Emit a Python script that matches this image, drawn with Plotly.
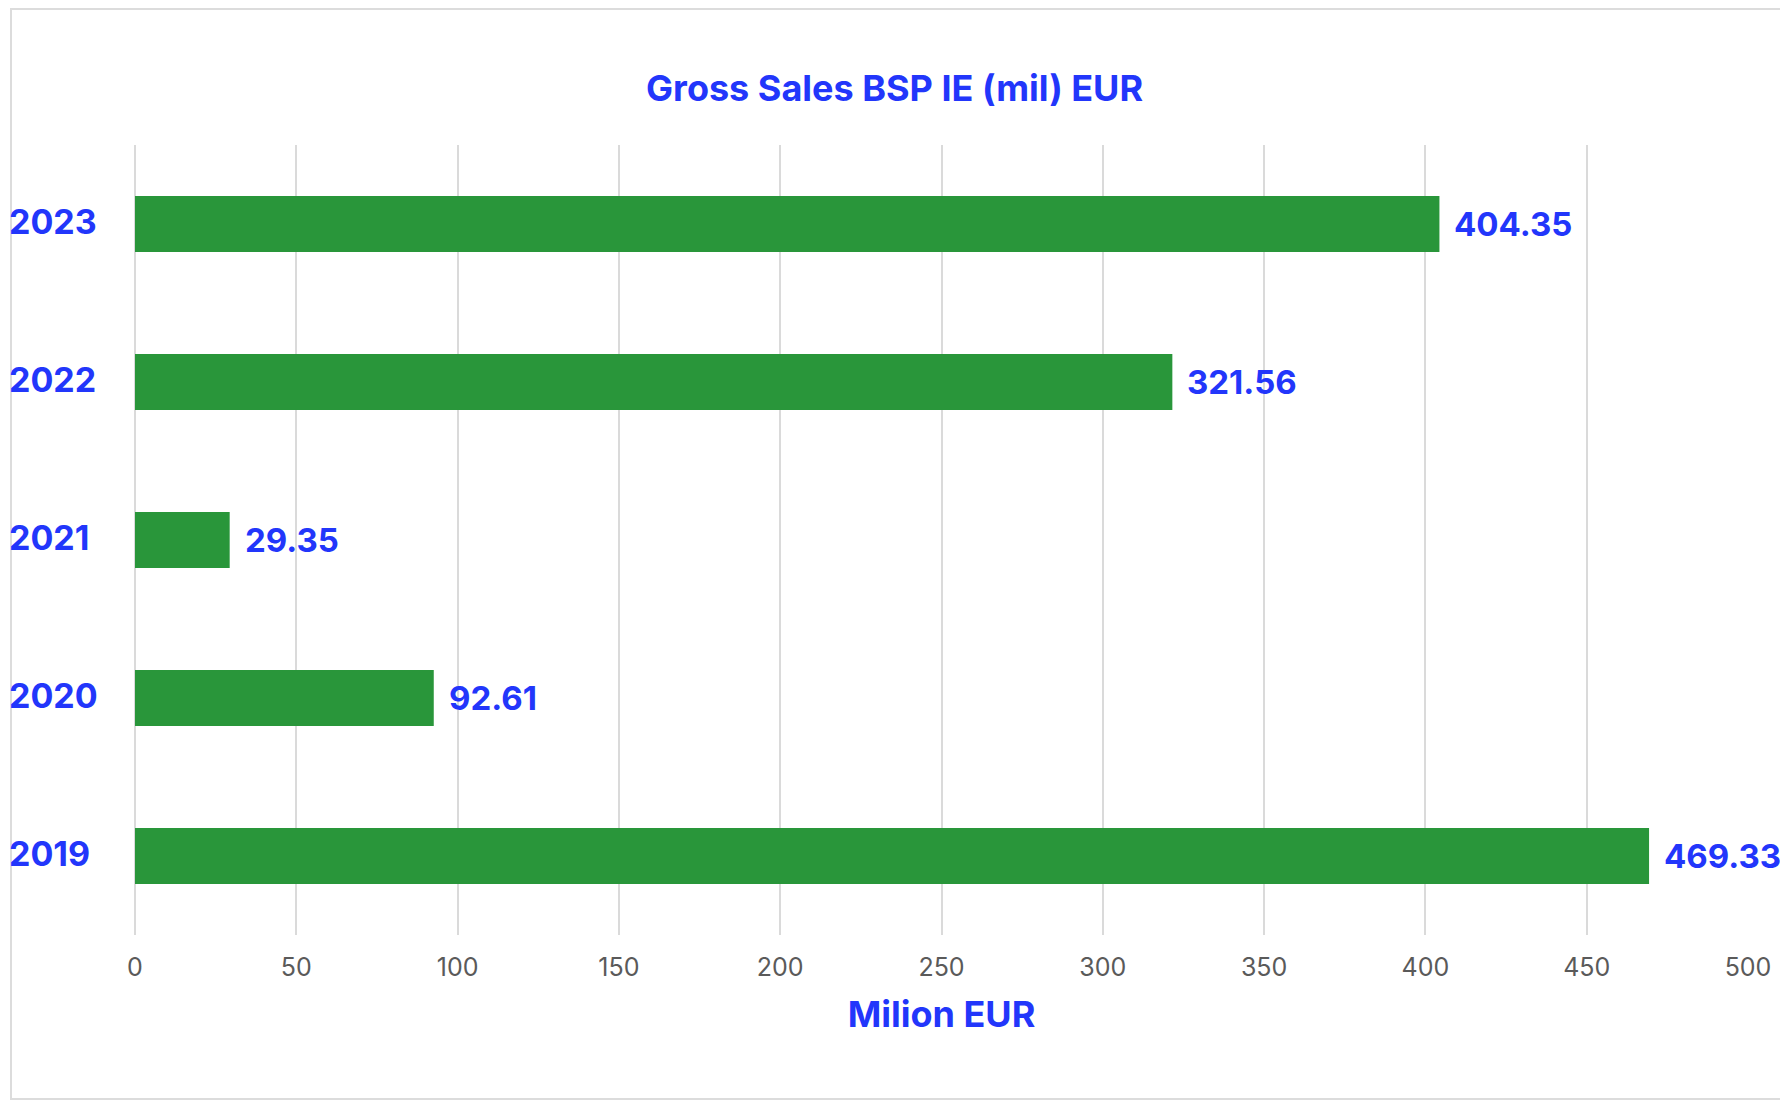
import plotly.graph_objects as go

# data
years = ["2019", "2020", "2021", "2022", "2023"]
sales = [469.33, 92.61, 29.35, 321.56, 404.35]
x_ticks = [0, 50, 100, 150, 200, 250, 300, 350, 400, 450, 500]

BLUE = "#2236fb"
GREEN = "#29963a"
GRID = "#dadada"
W, H = 1788, 1112

# plot area in px (page has an 8px body margin, so these are figure px)
L, R, T, B = 127, 48, 137, 185
PW, PH = W - L - R, H - T - B

fig = go.Figure(go.Bar(
    x=sales,
    y=years,
    orientation="h",
    marker=dict(color=GREEN, line=dict(width=0)),
    width=0.354,
    hoverinfo="x+y",
))

# numeric-looking category names get read as indices, so annotations use the index
for i, (yr, v) in enumerate(zip(years, sales)):
    # value label right of the bar
    fig.add_annotation(
        x=v, y=i, xref="x", yref="y",
        text=f"{v:.2f}", showarrow=False,
        xanchor="left", yanchor="middle", xshift=13, yshift=0,
        font=dict(family="Inter", size=33, color=BLUE, weight=700),
    )
    # year label, left aligned at the frame edge
    fig.add_annotation(
        x=(-1 - L) / PW, y=i, xref="paper", yref="y",
        text=yr, showarrow=False,
        xanchor="left", yanchor="middle", yshift=3,
        font=dict(family="Inter", size=34, color=BLUE, weight=700),
    )

# light frame around the chart (right edge runs off the page)
fig.add_shape(
    type="rect", xref="paper", yref="paper",
    x0=(3 - L) / PW, x1=(W + 20 - L) / PW,
    y0=-(1091 - (H - B)) / PH, y1=1 + (T - 1) / PH,
    line=dict(color="#dcdcdc", width=2), fillcolor="rgba(0,0,0,0)", layer="below",
)

fig.update_layout(
    width=W, height=H,
    margin=dict(l=L, r=R, t=T, b=B),
    paper_bgcolor="white",
    plot_bgcolor="white",
    showlegend=False,
    title=dict(
        text="Gross Sales BSP IE (mil) EUR",
        x=886.6 / W, xref="container", xanchor="center",
        y=1 - 80 / H, yref="container", yanchor="middle",
        font=dict(family="Inter", size=36, color=BLUE, weight=700),
    ),
    font=dict(family="Inter"),
)

fig.update_xaxes(
    range=[0, 500], tickvals=x_ticks, showgrid=True,
    gridcolor=GRID, gridwidth=1.5,
    zeroline=True, zerolinecolor=GRID, zerolinewidth=1.5, showline=False,
    tickfont=dict(family="Inter", size=25, color="#5a5a5a"),
    ticks="", ticklabelstandoff=15, automargin=False,
    title=dict(text="Milion EUR", standoff=20,
               font=dict(family="Inter", size=36, color=BLUE, weight=700)),
)
fig.update_yaxes(
    type="category", categoryorder="array", categoryarray=years,
    range=[-0.5, 4.5], showgrid=False, zeroline=False, showline=False,
    showticklabels=False, ticks="", automargin=False,
)

fig.write_html("out.html")
